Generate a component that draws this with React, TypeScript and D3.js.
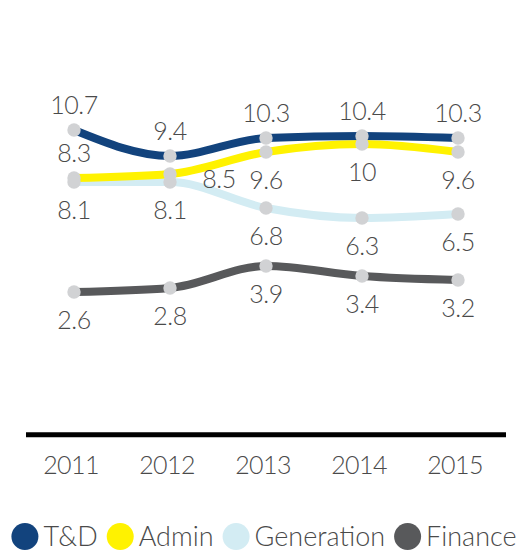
import React, { useEffect, useRef } from 'react';
import * as d3 from 'd3';

const years = ['2011', '2012', '2013', '2014', '2015'];
const seriesNames = ['T&D', 'Admin', 'Generation', 'Finance'];
const tdValues = [10.7, 9.4, 10.3, 10.4, 10.3];
const adminValues = [8.3, 8.5, 9.6, 10, 9.6];
const generationValues = [8.1, 8.1, 6.8, 6.3, 6.5];
const financeValues = [2.6, 2.8, 3.9, 3.4, 3.2];

const seriesColors = ['#12437d', '#fff200', '#d3ecf3', '#58595b'];
// label placement per series / point
const labelPlacement: string[][] = [
  ['above', 'above', 'above', 'above', 'above'],
  ['above', 'right', 'below', 'below', 'below'],
  ['below', 'below', 'below', 'below', 'below'],
  ['below', 'below', 'below', 'below', 'below'],
];

const W = 532;
const H = 554;
const FONT = 'Lato, "Open Sans", sans-serif';
const TEXT_COLOR = '#4a4a4a';

export default function App() {
  const ref = useRef<SVGSVGElement | null>(null);

  useEffect(() => {
    const svg = d3.select(ref.current);
    svg.selectAll('*').remove();

    const allValues = [tdValues, adminValues, generationValues, financeValues];
    const series = seriesNames.map((name, i) => ({
      name,
      color: seriesColors[i],
      values: allValues[i],
      placement: labelPlacement[i],
    }));

    const x = d3.scaleBand<string>().domain(years).range([26, 506]);
    const cx = (yr: string) => (x(yr) as number) + x.bandwidth() / 2;
    const y = d3.scaleLinear().domain([-4.5, 13]).range([434, 84]);

    const line = d3
      .line<number>()
      .x((_, i) => cx(years[i]))
      .y((d) => y(d))
      .curve(d3.curveMonotoneX);

    // lines
    const drawOrder = [3, 2, 1, 0];
    drawOrder.forEach((si) => {
      const s = series[si];
      svg
        .append('path')
        .attr('d', line(s.values) as string)
        .attr('fill', 'none')
        .attr('stroke', s.color)
        .attr('stroke-width', 8)
        .attr('stroke-linecap', 'butt');
    });

    // markers
    series.forEach((s) => {
      svg
        .append('g')
        .selectAll('circle')
        .data(s.values)
        .join('circle')
        .attr('cx', (_, i) => cx(years[i]))
        .attr('cy', (d) => y(d))
        .attr('r', 6.7)
        .attr('fill', '#d1d2d4');
    });

    // data labels
    series.forEach((s) => {
      svg
        .append('g')
        .selectAll('text')
        .data(s.values)
        .join('text')
        .attr('x', (_, i) => cx(years[i]) + (s.placement[i] === 'right' ? 49 : 0))
        .attr('y', (d, i) => {
          const p = s.placement[i];
          if (p === 'above') return y(d) - 16;
          if (p === 'right') return y(d) + 14;
          return y(d) + 37;
        })
        .attr('text-anchor', 'middle')
        .attr('font-family', FONT)
        .attr('font-weight', 300)
        .attr('font-size', 25)
        .attr('letter-spacing', -0.4)
        .attr('fill', TEXT_COLOR)
        .text((d) => String(d));
    });

    // axis line
    svg
      .append('line')
      .attr('x1', x.range()[0])
      .attr('x2', x.range()[1])
      .attr('y1', y(-4.5) + 0.8)
      .attr('y2', y(-4.5) + 0.8)
      .attr('stroke', '#000')
      .attr('stroke-width', 5);

    // year labels
    svg
      .append('g')
      .selectAll('text')
      .data(years)
      .join('text')
      .attr('x', (d) => cx(d) - 3)
      .attr('y', 474)
      .attr('text-anchor', 'middle')
      .attr('font-family', FONT)
      .attr('font-weight', 300)
      .attr('font-size', 25)
      .attr('letter-spacing', -0.6)
      .attr('fill', TEXT_COLOR)
      .text((d) => d);

    // legend
    const lg = svg.append('g');
    const r = 13.5;
    const gap = 9;
    let cursor = 0;
    series.forEach((s) => {
      const g = lg.append('g');
      g.append('circle').attr('cx', r).attr('cy', 0).attr('r', r).attr('fill', s.color);
      const t = g
        .append('text')
        .attr('x', 2 * r + 5)
        .attr('y', 9.5)
        .attr('font-family', FONT)
        .attr('font-weight', 300)
        .attr('font-size', 27)
        .attr('fill', TEXT_COLOR)
        .text(s.name);
      const tw = (t.node() as SVGTextElement).getComputedTextLength();
      const w = 2 * r + 5 + tw;
      g.attr('transform', `translate(${cursor},0)`);
      cursor += w + gap;
    });
    const total = cursor - gap;
    lg.attr('transform', `translate(${264 - total / 2},536.5)`);
  }, []);

  return (
    <svg
      ref={ref}
      width={W}
      height={H}
      style={{ position: 'absolute', left: 0, top: 0, background: '#fff' }}
    />
  );
}
